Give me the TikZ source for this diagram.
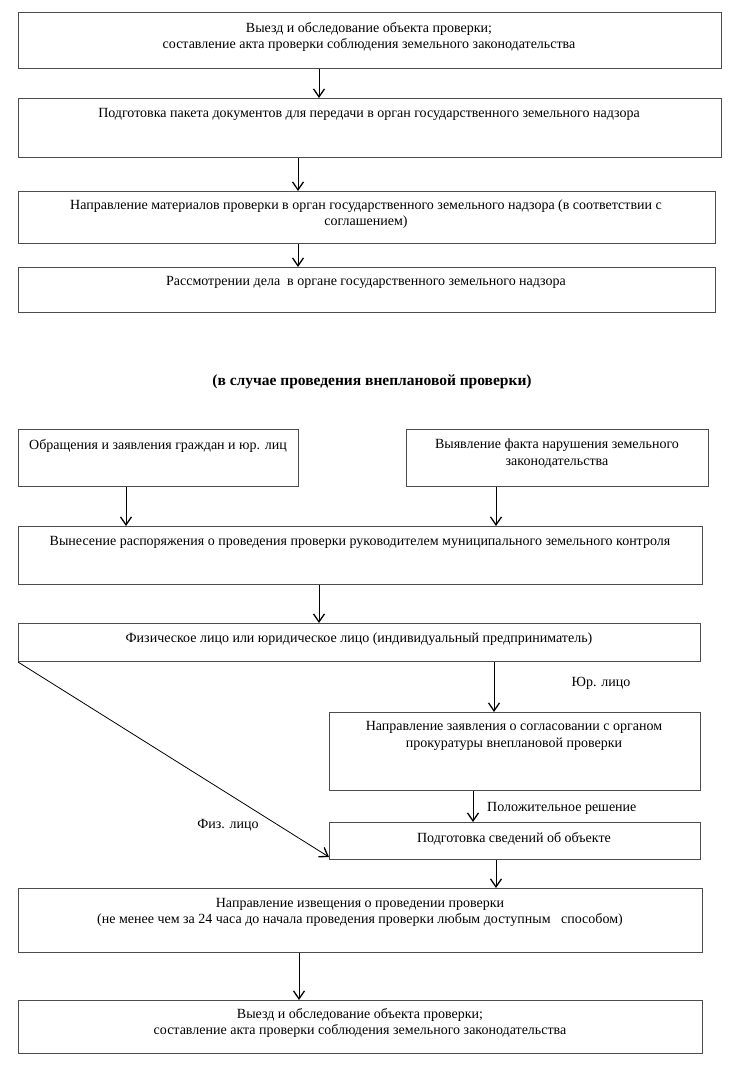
\documentclass[tikz,border=0pt]{standalone}
\usepackage{fontspec}
\setmainfont{Liberation Serif}
\usetikzlibrary{arrows.meta}
\tikzset{
  box/.style={draw=black!70, line width=1pt, rectangle, anchor=north west, inner sep=0pt},
  txt/.style={anchor=north, inner sep=0pt, align=center, font=\fontsize{14}{16.5}\selectfont},
  lbl/.style={inner sep=0pt, font=\fontsize{14}{16.5}\selectfont},
  arr/.style={draw=black, line width=0.8pt, -{Straight Barb[length=8pt,width=11pt,line width=1.3pt]}}
}
\begin{document}
\begin{tikzpicture}[x=1pt,y=-1pt]
\useasboundingbox (0,0) rectangle (729,1065);
% boxes
\node[box, minimum width=703pt, minimum height=56pt] (b1) at (18,12) {};
\node[txt] (t1) at (369,22) {Выезд и обследование объекта проверки;\\составление акта проверки соблюдения земельного законодательства};
\node[box, minimum width=703pt, minimum height=59pt] (b2) at (18,98) {};
\node[txt] (t2) at (369,108) {Подготовка пакета документов для передачи в орган государственного земельного надзора};
\node[box, minimum width=697pt, minimum height=52pt] (b3) at (18,191) {};
\node[txt] (t3) at (366,199.5) {Направление материалов проверки в орган государственного земельного надзора (в соответствии с\\соглашением)};
\node[box, minimum width=697pt, minimum height=45pt] (b4) at (18,267) {};
\node[txt] (t4) at (366,276) {Рассмотрении дела\ \ в органе государственного земельного надзора};

\node[txt, font=\fontsize{15.5}{18}\selectfont\bfseries] (title) at (372,374.5) {(в случае проведения внеплановой проверки)};

\node[box, minimum width=280pt, minimum height=57pt] (b5) at (18,429) {};
\node[txt] (t5) at (158,439) {Обращения и заявления граждан и юр. лиц};
\node[box, minimum width=302pt, minimum height=57pt] (b6) at (406,429) {};
\node[txt] (t6) at (557,439) {Выявление факта нарушения земельного\\законодательства};
\node[box, minimum width=684pt, minimum height=58pt] (b7) at (18,526) {};
\node[txt] (t7) at (360,536.5) {Вынесение распоряжения о проведения проверки руководителем муниципального земельного контроля};
\node[box, minimum width=682pt, minimum height=38pt] (b8) at (18,623) {};
\node[txt] (t8) at (359,632.5) {Физическое лицо или юридическое лицо (индивидуальный предприниматель)};
\node[box, minimum width=371pt, minimum height=78pt] (b9) at (329,712) {};
\node[txt] (t9) at (514,721.5) {Направление заявления о согласовании с органом\\прокуратуры внеплановой проверки};
\node[box, minimum width=371pt, minimum height=37pt] (b10) at (329,822) {};
\node[txt] (t10) at (514,832.5) {Подготовка сведений об объекте};
\node[box, minimum width=684pt, minimum height=64pt] (b11) at (18,888) {};
\node[txt] (t11) at (360,898) {Направление извещения о проведении проверки\\(не менее чем за 24 часа до начала проведения проверки любым доступным\ \ \ способом)};
\node[box, minimum width=684pt, minimum height=53pt] (b12) at (18,1000) {};
\node[txt] (t12) at (360,1008) {Выезд и обследование объекта проверки;\\составление акта проверки соблюдения земельного законодательства};

% labels
\node[lbl, anchor=mid] (l1) at (601,684) {Юр. лицо};
\node[lbl, anchor=mid west] (l2) at (487,809) {Положительное решение};
\node[lbl, anchor=mid] (l3) at (228,826) {Физ. лицо};

% arrows
\draw[arr] ([xshift=301pt]b1.south west) -- ([xshift=301pt]b2.north west);
\draw[arr] ([xshift=280pt]b2.south west) -- ([xshift=280pt]b3.north west);
\draw[arr] ([xshift=280pt]b3.south west) -- ([xshift=280pt]b4.north west);
\draw[arr] ([xshift=108pt]b5.south west) -- ([xshift=108pt]b7.north west);
\draw[arr] ([xshift=90pt]b6.south west) -- ([xshift=478pt]b7.north west);
\draw[arr] ([xshift=301pt]b7.south west) -- ([xshift=301pt]b8.north west);
\draw[arr] ([xshift=476pt]b8.south west) -- ([xshift=165pt]b9.north west);
\draw[arr] ([xshift=144pt]b9.south west) -- ([xshift=144pt]b10.north west);
\draw[arr] (b8.south west) -- ([yshift=3pt]b10.south west);
\draw[arr] ([xshift=167pt]b10.south west) -- ([xshift=478pt]b11.north west);
\draw[arr] ([xshift=281pt]b11.south west) -- ([xshift=281pt]b12.north west);
\end{tikzpicture}
\end{document}
